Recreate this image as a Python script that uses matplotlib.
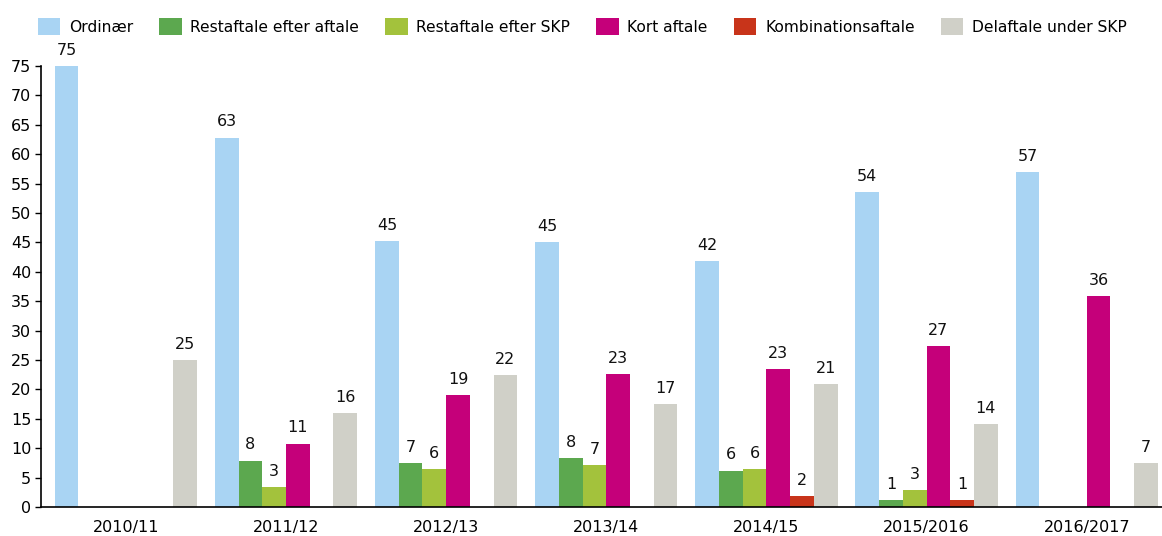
import numpy as np
import matplotlib.pyplot as plt

# Aftaletyper pr. år
years = ['2010/11', '2011/12', '2012/13', '2013/14', '2014/15', '2015/2016', '2016/2017']
series = ['Ordinær', 'Restaftale efter aftale', 'Restaftale efter SKP',
          'Kort aftale', 'Kombinationsaftale', 'Delaftale under SKP']

ordinaer = [75.0, 62.8, 45.2, 45.1, 41.8, 53.6, 57.0]
rest_aftale = [0, 7.9, 7.45, 8.3, 6.2, 1.2, 0]
rest_skp = [0, 3.4, 6.45, 7.1, 6.45, 2.9, 0]
kort = [0, 10.8, 19.0, 22.6, 23.4, 27.4, 35.9]
kombination = [0, 0, 0, 0, 1.9, 1.2, 0]
delaftale = [25.0, 16.0, 22.4, 17.45, 20.9, 14.1, 7.45]

colors = ['#A9D4F3', '#5CA84F', '#A3C23C', '#C5007A', '#C8341A', '#D0D0C8']

fig = plt.figure(figsize=(11.62, 5.36), dpi=100)
ax = fig.add_axes([0.0353, 0.054, 0.9647, 0.823])

x = np.arange(len(years))
width = 0.148
data = [ordinaer, rest_aftale, rest_skp, kort, kombination, delaftale]

for i, (name, vals) in enumerate(zip(series, data)):
    offset = (i - 2.5) * width
    bars = ax.bar(x + offset, vals, width, color=colors[i], label=name, linewidth=0)
    for bar, v in zip(bars, vals):
        if v > 0:
            ax.text(bar.get_x() + bar.get_width() / 2, v + 1.4, f'{v:.0f}',
                    ha='center', va='bottom', fontsize=11.5, color='#111111')

ax.set_xlim(-0.53, len(years) - 0.53)
ax.set_ylim(0, 75)
ax.set_yticks(np.arange(0, 80, 5))
ax.set_xticks(x)
ax.set_xticklabels(years, fontsize=11.5)
ax.tick_params(axis='y', labelsize=11.5, length=4, width=1, pad=3)
ax.tick_params(axis='x', length=0, pad=9)
for side in ['top', 'right']:
    ax.spines[side].set_visible(False)
ax.spines['left'].set_linewidth(1.2)
ax.spines['bottom'].set_linewidth(1.2)

fig.legend(loc='center', bbox_to_anchor=(0.501, 0.95), ncol=6, frameon=False,
           fontsize=11.2, handlelength=1.45, handleheight=1.3, handletextpad=0.55,
           columnspacing=1.68)

plt.savefig('out.png', dpi=100)
